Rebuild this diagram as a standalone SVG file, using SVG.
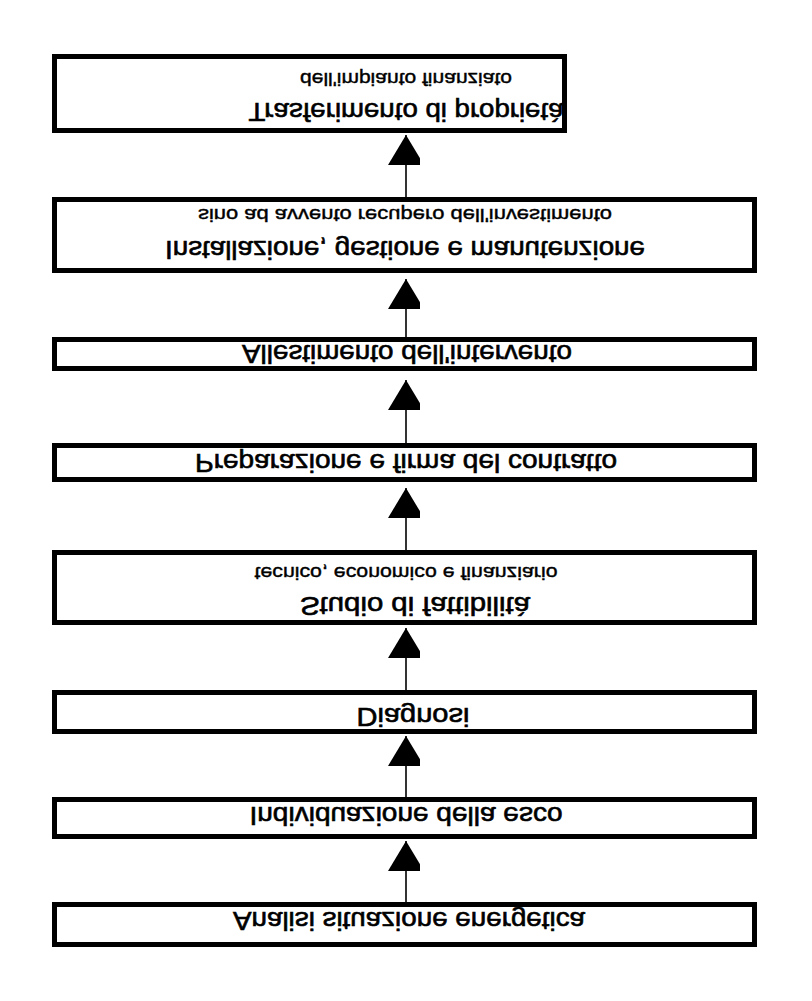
<svg xmlns="http://www.w3.org/2000/svg" width="812" height="1001" viewBox="0 0 812 1001">
<style>
.box{fill:#fff;stroke:#000;stroke-width:5}
.t{font-family:"Liberation Sans",Arial,sans-serif;font-size:25px;fill:#000;text-anchor:middle;stroke:#000;stroke-width:0.6}
.s{font-family:"Liberation Sans",Arial,sans-serif;font-size:18px;fill:#000;text-anchor:middle;stroke:#000;stroke-width:0.4}
.c{stroke:#000;stroke-width:1.6;fill:none}
</style>
<defs>
<marker id="ah" markerUnits="userSpaceOnUse" markerWidth="36" markerHeight="32" refX="30" refY="18" orient="auto">
<path d="M0,0 L30,18 L0,36 Z" fill="#000"/>
</marker>
</defs>
<rect width="812" height="1001" fill="#fff"/>
<g id="connectors">
<path class="c" d="M406,197 V135" marker-end="url(#ah)"/>
<path class="c" d="M406,337 V279" marker-end="url(#ah)"/>
<path class="c" d="M406,443 V380" marker-end="url(#ah)"/>
<path class="c" d="M406,550 V488" marker-end="url(#ah)"/>
<path class="c" d="M406,690 V628" marker-end="url(#ah)"/>
<path class="c" d="M406,797 V736" marker-end="url(#ah)"/>
<path class="c" d="M406,902 V841" marker-end="url(#ah)"/>
</g>
<g id="n1">
<rect class="box" x="54.5" y="56.5" width="510" height="74"/>
<text class="s" transform="translate(406,73) scale(1,-1)" textLength="212" lengthAdjust="spacingAndGlyphs">dell'impianto finanziato</text>
<text class="t" transform="translate(406,103) scale(1,-1)" textLength="315" lengthAdjust="spacingAndGlyphs">Trasferimento di proprietà</text>
</g>
<g id="n2">
<rect class="box" x="54.5" y="199.5" width="700" height="71"/>
<text class="s" transform="translate(405,209) scale(1,-1)" textLength="414" lengthAdjust="spacingAndGlyphs">sino ad avvento recupero dell'investimento</text>
<text class="t" transform="translate(405,241) scale(1,-1)" textLength="480" lengthAdjust="spacingAndGlyphs">Installazione, gestione e manutenzione</text>
</g>
<g id="n3">
<rect class="box" x="54.5" y="339.5" width="700" height="29"/>
<text class="t" transform="translate(407,345) scale(1,-1)" textLength="330" lengthAdjust="spacingAndGlyphs">Allestimento dell'intervento</text>
</g>
<g id="n4">
<rect class="box" x="54.5" y="445.5" width="700" height="34"/>
<text class="t" transform="translate(406,454) scale(1,-1)" textLength="422" lengthAdjust="spacingAndGlyphs">Preparazione e firma del contratto</text>
</g>
<g id="n5">
<rect class="box" x="54.5" y="552.5" width="700" height="70"/>
<text class="s" transform="translate(406,567) scale(1,-1)" textLength="303" lengthAdjust="spacingAndGlyphs">tecnico, economico e finanziario</text>
<text class="t" transform="translate(415,597) scale(1,-1)" textLength="230" lengthAdjust="spacingAndGlyphs">Studio di fattibilità</text>
</g>
<g id="n6">
<rect class="box" x="54.5" y="692.5" width="700" height="39"/>
<text class="t" transform="translate(413,708) scale(1,-1)" textLength="113" lengthAdjust="spacingAndGlyphs">Diagnosi</text>
</g>
<g id="n7">
<rect class="box" x="54.5" y="799.5" width="700" height="37"/>
<text class="t" transform="translate(406,807) scale(1,-1)" textLength="313" lengthAdjust="spacingAndGlyphs">Individuazione della esco</text>
</g>
<g id="n8">
<rect class="box" x="54.5" y="904.5" width="700" height="40"/>
<text class="t" transform="translate(409,912) scale(1,-1)" textLength="352" lengthAdjust="spacingAndGlyphs">Analisi situazione energetica</text>
</g>
</svg>
